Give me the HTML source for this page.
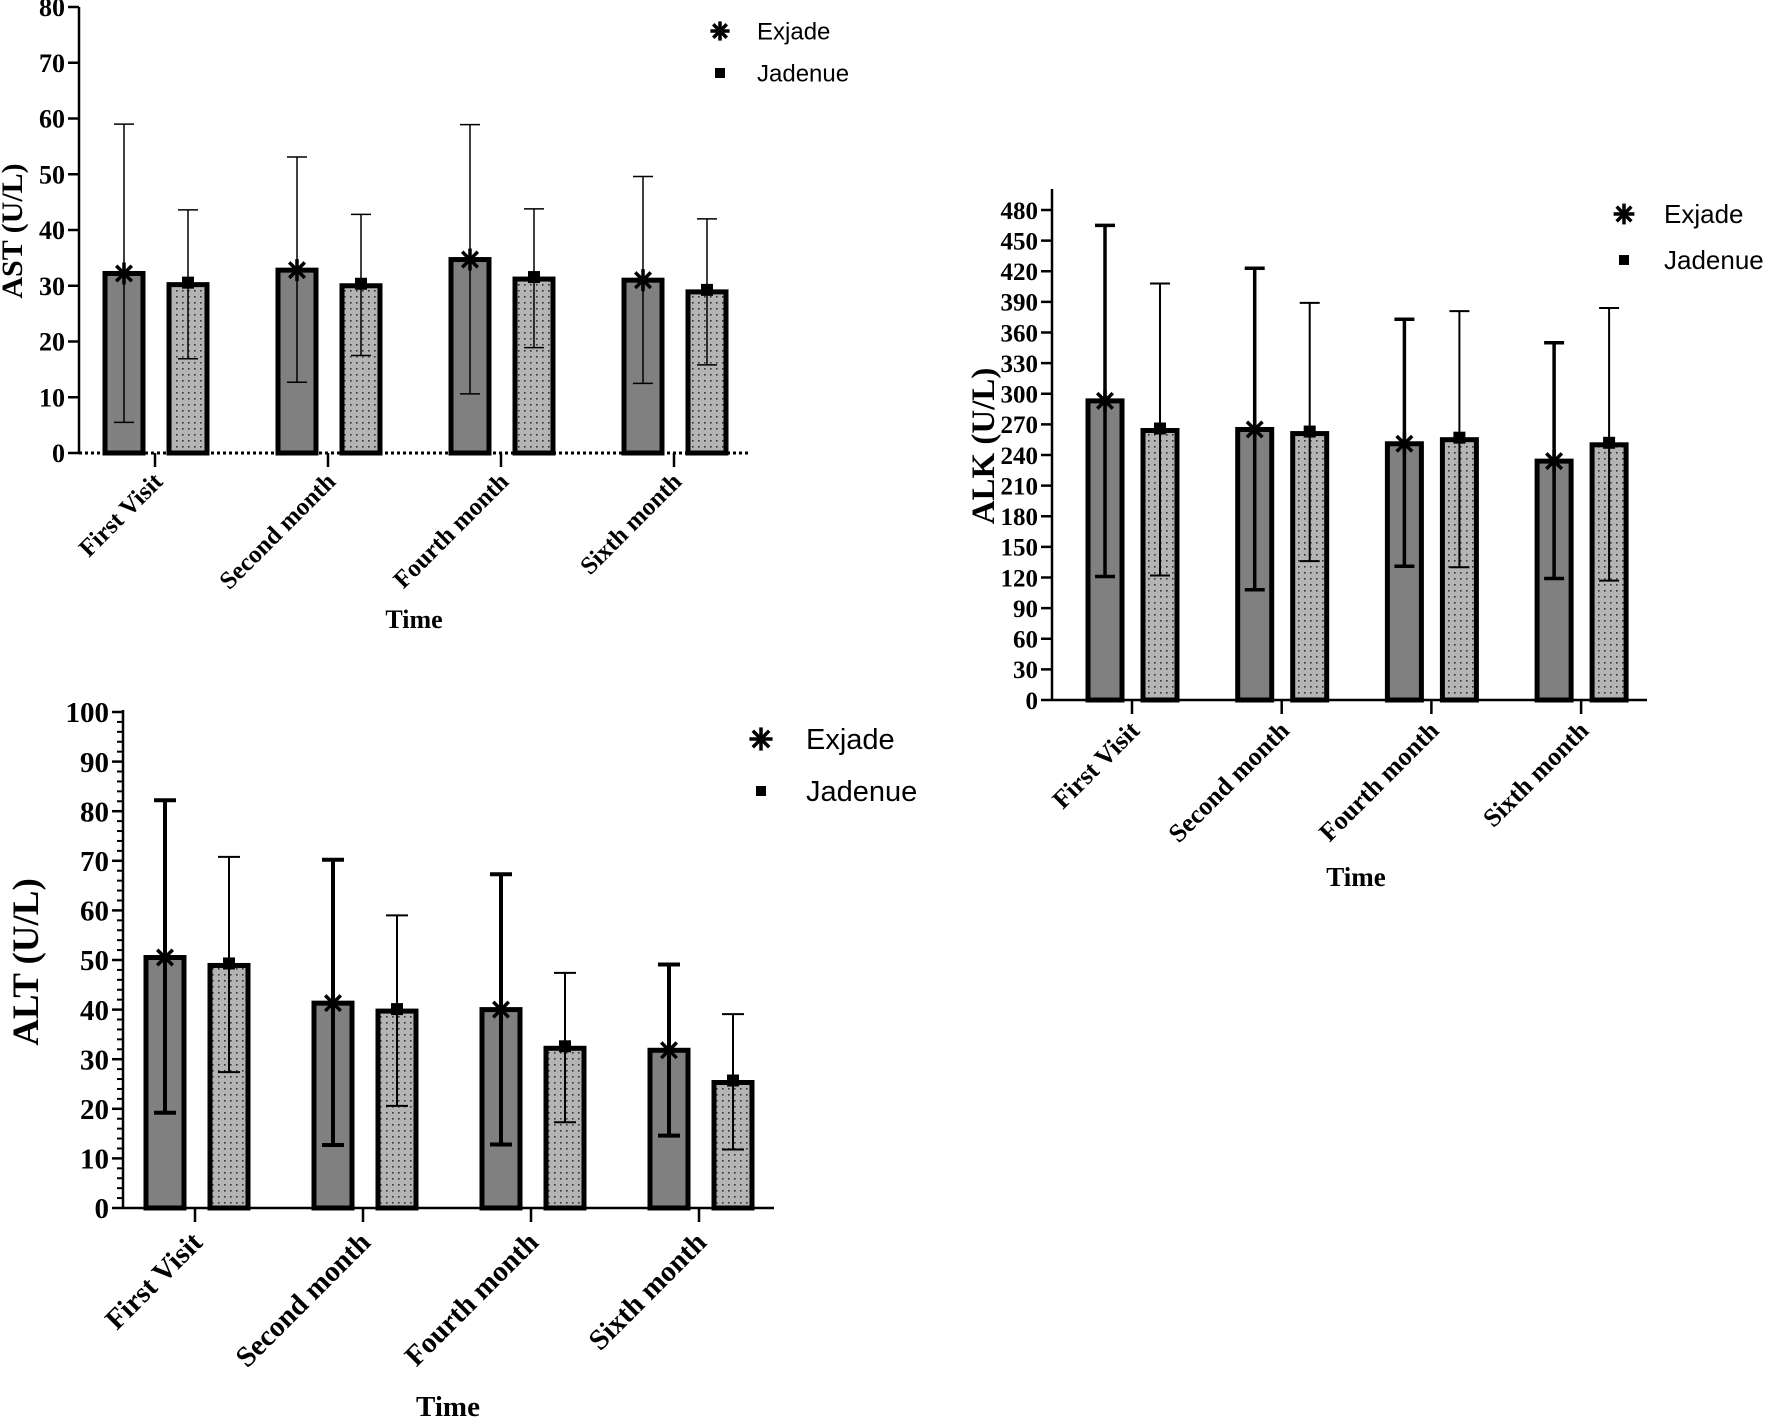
<!DOCTYPE html>
<html><head><meta charset="utf-8"><style>
html,body{margin:0;padding:0;background:#fff;}
svg{display:block;}
text{font-family:"Liberation Serif",serif;font-weight:bold;fill:#000;}
.leg{font-family:"Liberation Sans",sans-serif;font-weight:normal;}
</style></head><body>
<svg id="fig" width="1772" height="1418" viewBox="0 0 1772 1418" xmlns="http://www.w3.org/2000/svg">
<defs>
<pattern id="dots" width="6" height="6" patternUnits="userSpaceOnUse">
<rect width="6" height="6" fill="#b4b4b4"/><rect x="2" y="2" width="1.6" height="1.6" fill="#333"/>
</pattern>
</defs>
</svg>
<script>
const categories = ["First Visit","Second month","Fourth month","Sixth month"];
const seriesNames = ["Exjade","Jadenue"];
// AST
const astExjade = [32.2,32.8,34.7,31.0];
const astExjadeHi = [59.0,53.1,58.9,49.6];
const astExjadeLo = [5.5,12.7,10.6,12.5];
const astJadenue = [30.2,30.0,31.2,28.9];
const astJadenueHi = [43.6,42.8,43.8,42.0];
const astJadenueLo = [16.9,17.5,18.9,15.8];
const astTicks = [0,10,20,30,40,50,60,70,80];
// ALT
const altExjade = [50.5,41.3,40.0,31.8];
const altExjadeHi = [82.2,70.2,67.3,49.1];
const altExjadeLo = [19.2,12.7,12.8,14.6];
const altJadenue = [48.9,39.7,32.2,25.3];
const altJadenueHi = [70.8,59.0,47.4,39.1];
const altJadenueLo = [27.4,20.6,17.3,11.8];
const altTicks = [0,10,20,30,40,50,60,70,80,90,100];
// ALK
const alkExjade = [293,265,251,234];
const alkExjadeHi = [465,423,373,350];
const alkExjadeLo = [121,108,131,119];
const alkJadenue = [264,261,255,250];
const alkJadenueHi = [408,389,381,384];
const alkJadenueLo = [122,136,130,117];
const alkTicks = [0,30,60,90,120,150,180,210,240,270,300,330,360,390,420,450,480];

const NS="http://www.w3.org/2000/svg";
const svg=document.getElementById('fig');
function el(tag,attrs,parent){const e=document.createElementNS(NS,tag);for(const k in attrs)e.setAttribute(k,attrs[k]);(parent||svg).appendChild(e);return e;}

function drawChart(c){
  const g=el('g',{});
  
  
  const ymax=c.ticks[c.ticks.length-1];
  const yS=v=>c.y0-(v/ymax)*(c.y0-c.yTop);
  const ya=el('line',{x1:c.x0,y1:c.axisTop,x2:c.x0,y2:c.y0,stroke:'#000','stroke-width':2.5},g);
  
  
  c.ticks.forEach(t=>{
    const y=yS(t);
    el('line',{x1:c.x0-11,y1:y,x2:c.x0,y2:y,stroke:'#000','stroke-width':2.5},g);
    const tx=el('text',{x:c.x0-14,y:y+c.tickFs*0.35,'text-anchor':'end','font-size':c.tickFs},g);
    tx.textContent=t;
    
    
  });
  if(c.minor){for(let v=0;v<=ymax;v+=c.minor){el('line',{x1:c.x0-6,y1:yS(v),x2:c.x0,y2:yS(v),stroke:'#000','stroke-width':2},g);}}
  const xa=el('line',{x1:c.x0,y1:c.y0,x2:c.xEnd,y2:c.y0,stroke:'#000','stroke-width':c.dottedX?3:2.5,'stroke-dasharray':c.dottedX?'3,3':'none'},g);
  
  
  const vals=[c.ex,c.jd],his=[c.exHi,c.jdHi],los=[c.exLo,c.jdLo];
  categories.forEach((cat,i)=>{
    const cx=c.cat0+i*c.catStep;
    el('line',{x1:cx,y1:c.y0,x2:cx,y2:c.y0+14,stroke:'#000','stroke-width':2.5},g);
    const lx=cx+9,ly=c.y0+c.labDy;
    const lab=el('text',{x:lx,y:ly,'text-anchor':'end','font-size':c.catFs,transform:`rotate(-45 ${lx} ${ly})`},g);
    lab.textContent=cat;
    
    
    for(let s=0;s<2;s++){
      const bx=cx+c.off[s],w=c.bw,v=vals[s][i];
      const r=el('rect',{x:bx-w/2,y:yS(v),width:w,height:c.y0-yS(v),fill:s===0?'#808080':'url(#dots)',stroke:'#000','stroke-width':5},g);
      
      
      const sw=c.errW[s];
      const eb=el('g',{stroke:'#000','stroke-width':sw},g);
      
      
      el('line',{x1:bx,y1:yS(his[s][i]),x2:bx,y2:yS(los[s][i])},eb);
      el('line',{x1:bx-c.cap,y1:yS(his[s][i]),x2:bx+c.cap,y2:yS(his[s][i])},eb);
      el('line',{x1:bx-c.cap,y1:yS(los[s][i]),x2:bx+c.cap,y2:yS(los[s][i])},eb);
      const my=yS(v);
      if(s===0) star(bx,my,11,g); else {el('rect',{x:bx-6,y:my-8,width:12,height:12,fill:'#000'},g);}
    }
  });
  const yl=el('text',{x:c.ylx,y:c.yly,'text-anchor':'middle','font-size':c.ylFs,transform:`rotate(-90 ${c.ylx} ${c.yly})`},g);
  yl.textContent=c.ylabel;
  
  
  const xl=el('text',{x:c.xlx,y:c.xly,'text-anchor':'middle','font-size':c.xlFs},g);
  xl.textContent='Time';
  
  
  const lg=el('g',{},g);
  
  
  star(c.legX,c.legY1,c.legFs*0.4,lg);
  el('rect',{x:c.legX-5,y:c.legY2-5,width:10,height:10,fill:'#000'},lg);
  [[c.legY1,'Exjade'],[c.legY2,'Jadenue']].forEach(([y,t])=>{
    const lt=el('text',{x:c.legTx,y:y+c.legFs*0.35,'font-size':c.legFs,class:'leg'},lg);
    lt.textContent=t;
    
    
  });
}
function star(x,y,r,p){
  const sg=el('g',{stroke:'#000','stroke-width':3.5},p);
  for(let k=0;k<4;k++){const a=k*Math.PI/4;el('line',{x1:x-r*Math.cos(a),y1:y-r*Math.sin(a),x2:x+r*Math.cos(a),y2:y+r*Math.sin(a)},sg);}
}

drawChart({name:'ast',x0:79,y0:453,yTop:7,axisTop:7,xEnd:749,ticks:astTicks,tickFs:26,cat0:155,catStep:173,off:[-31,33],bw:38,cap:10,errW:[1.5,1.5],
  ex:astExjade,exHi:astExjadeHi,exLo:astExjadeLo,jd:astJadenue,jdHi:astJadenueHi,jdLo:astJadenueLo,dottedX:true,
  catFs:25,labDy:30,ylabel:'AST (U/L)',ylx:22,yly:231,ylFs:30,xlx:414,xly:628,xlFs:26,legX:720,legY1:31,legY2:73,legTx:757,legFs:24});
drawChart({name:'alt',x0:123,y0:1208,yTop:712,axisTop:710,xEnd:774,ticks:altTicks,tickFs:29,minor:2,cat0:195,catStep:168,off:[-30,34],bw:38,cap:11,errW:[4,2],
  ex:altExjade,exHi:altExjadeHi,exLo:altExjadeLo,jd:altJadenue,jdHi:altJadenueHi,jdLo:altJadenueLo,
  catFs:29,labDy:36,ylabel:'ALT (U/L)',ylx:38,yly:962,ylFs:37,xlx:448,xly:1416,xlFs:29,legX:761,legY1:739,legY2:791,legTx:806,legFs:29});
drawChart({name:'alk',x0:1052,y0:700,yTop:210,axisTop:189,xEnd:1647,ticks:alkTicks,tickFs:25,cat0:1132,catStep:149.7,off:[-27,28],bw:34,cap:10,errW:[3.5,2],
  ex:alkExjade,exHi:alkExjadeHi,exLo:alkExjadeLo,jd:alkJadenue,jdHi:alkJadenueHi,jdLo:alkJadenueLo,
  catFs:26,labDy:32,ylabel:'ALK (U/L)',ylx:994,yly:446,ylFs:33,xlx:1356,xly:886,xlFs:27,legX:1624,legY1:214,legY2:260,legTx:1664,legFs:26});
</script>
</body></html>
